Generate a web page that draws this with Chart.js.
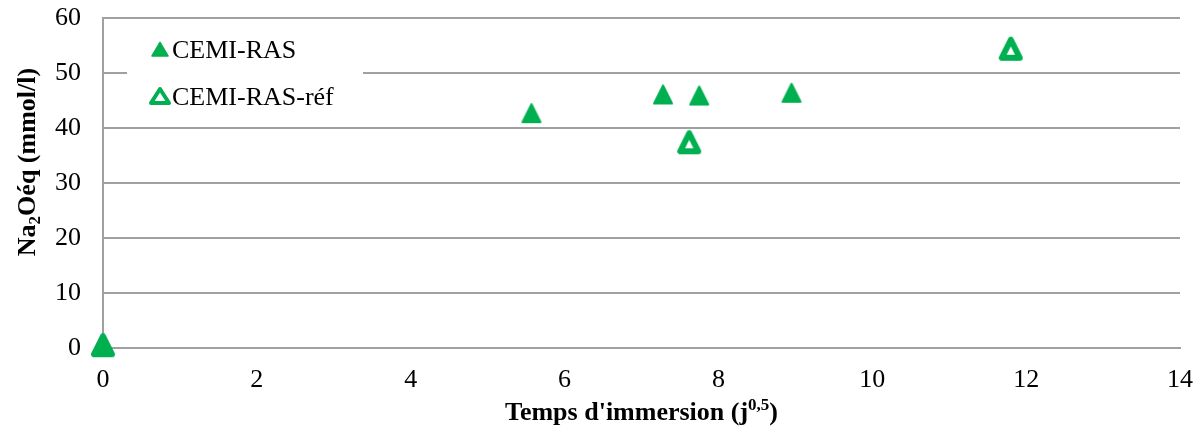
<!DOCTYPE html>
<html>
<head>
<meta charset="utf-8">
<script src="https://cdn.jsdelivr.net/npm/chart.js@4/dist/chart.umd.min.js"></script>
<style>
  body { margin: 0; background: #fff; }
  #wrap { width: 1204px; height: 428px; }
</style>
</head>
<body>
<div id="wrap"><canvas id="c"></canvas></div>
<script>
// données
var temps = [0, 5.57, 7.28, 7.75, 8.95];
var na2o = [0.5, 42.7, 46.1, 45.9, 46.4];
var tempsRef = [0, 7.62, 11.80];
var na2oRef = [0.5, 37.4, 54.4];
var series = ["CEMI-RAS", "CEMI-RAS-réf"];
var vert = "#00B050";

function pts(xs, ys) {
  return xs.map(function (x, i) { return { x: x, y: ys[i] }; });
}

// marqueurs triangulaires (un peu plus hauts qu'équilatéraux, coins arrondis)
function marqueur(size, a, b, lw, fill) {
  var cv = document.createElement("canvas");
  cv.width = size; cv.height = size;
  var g = cv.getContext("2d");
  g.lineJoin = "round";
  g.beginPath();
  g.moveTo(size / 2, a);
  g.lineTo(b, size - a);
  g.lineTo(size - b, size - a);
  g.closePath();
  g.fillStyle = fill; g.strokeStyle = vert; g.lineWidth = lw;
  g.fill(); g.stroke();
  return cv;
}
var triPlein = marqueur(22, 2, 2, 2, vert);
var triCreux = marqueur(26, 4, 4, 6, "#fff");

// titres d'axes et légende dessinés à la main (indice / exposant)
var decor = {
  id: "decor",
  afterDraw: function (chart) {
    var ctx = chart.ctx, a = chart.chartArea;
    ctx.save();
    ctx.fillStyle = "#000";
    ctx.textBaseline = "alphabetic";

    // titre x
    var big = "bold 26px 'Liberation Serif'", small = "bold 17px 'Liberation Serif'";
    var t1 = "Temps d'immersion (j", t2 = "0,5", t3 = ")";
    ctx.font = big; var w1 = ctx.measureText(t1).width, w3 = ctx.measureText(t3).width;
    ctx.font = small; var w2 = ctx.measureText(t2).width;
    var cx = (a.left + a.right) / 2, x0 = cx - (w1 + w2 + w3) / 2, yb = 420;
    ctx.font = big; ctx.fillText(t1, x0, yb);
    ctx.font = small; ctx.fillText(t2, x0 + w1, yb - 10);
    ctx.font = big; ctx.fillText(t3, x0 + w1 + w2, yb);

    // titre y
    ctx.save();
    ctx.translate(35, 162);
    ctx.rotate(-Math.PI / 2);
    var s1 = "Na", s2 = "2", s3 = "Oéq (mmol/l)";
    ctx.font = big; var v1 = ctx.measureText(s1).width, v3 = ctx.measureText(s3).width;
    ctx.font = small; var v2 = ctx.measureText(s2).width;
    var xs = -(v1 + v2 + v3) / 2;
    ctx.font = big; ctx.fillText(s1, xs, 0);
    ctx.font = small; ctx.fillText(s2, xs + v1, 5);
    ctx.font = big; ctx.fillText(s3, xs + v1 + v2, 0);
    ctx.restore();

    // légende
    ctx.fillStyle = "#fff";
    ctx.fillRect(127, 27, 236, 92);
    ctx.font = "26px 'Liberation Serif'";
    ctx.fillStyle = "#000";
    ctx.fillText(series[0], 172, 58);
    ctx.fillText(series[1], 172, 105);
    ctx.lineJoin = "round";
    ctx.fillStyle = vert; ctx.strokeStyle = vert;
    function tri(x, top, w, h) {
      ctx.beginPath();
      ctx.moveTo(x, top);
      ctx.lineTo(x + w / 2, top + h);
      ctx.lineTo(x - w / 2, top + h);
      ctx.closePath();
    }
    ctx.lineWidth = 1.5;
    tri(160, 42.5, 16, 13.5); ctx.fill(); ctx.stroke();
    ctx.fillStyle = "#fff"; ctx.lineWidth = 4;
    tri(160, 89, 18, 14); ctx.fill(); ctx.stroke();
    ctx.restore();
  }
};

new Chart(document.getElementById("c"), {
  type: "scatter",
  data: {
    datasets: [{
      label: series[0],
      data: pts(temps, na2o),
      clip: false,
      pointStyle: triPlein,
      pointRadius: 11
    }, {
      label: series[1],
      data: pts(tempsRef, na2oRef),
      clip: false,
      pointStyle: triCreux,
      pointRadius: 13
    }]
  },
  options: {
    responsive: true,
    maintainAspectRatio: false,
    animation: false,
    layout: { autoPadding: false, padding: { top: 18, right: 24, left: 0, bottom: 0 } },
    plugins: { legend: { display: false }, tooltip: { enabled: false } },
    scales: {
      x: {
        min: 0, max: 14,
        ticks: { stepSize: 2, color: "#000", font: { family: "Liberation Serif", size: 26 }, padding: 17, maxRotation: 0 },
        grid: { display: false, drawTicks: false },
        border: { color: "#a0a0a0", width: 2 },
        afterFit: function (s) { s.height = 80; s.paddingLeft = 0; s.paddingRight = 0; }
      },
      y: {
        min: 0, max: 60,
        ticks: { stepSize: 10, color: "#000", font: { family: "Liberation Serif", size: 26 }, padding: 22 },
        grid: { color: "#a0a0a0", lineWidth: 2, drawTicks: false },
        border: { color: "#a0a0a0", width: 2 },
        afterFit: function (s) { s.width = 103; s.paddingTop = 0; s.paddingBottom = 0; }
      }
    }
  },
  plugins: [decor]
});
</script>
</body>
</html>
